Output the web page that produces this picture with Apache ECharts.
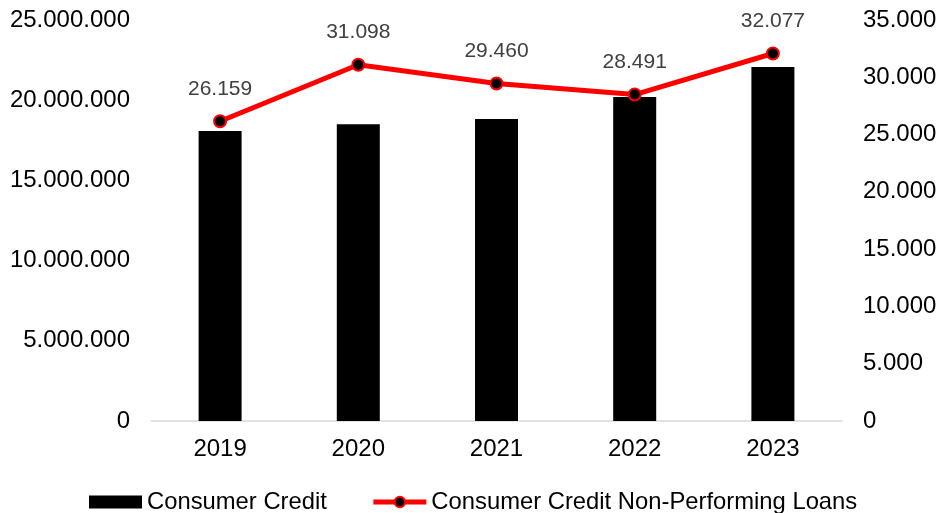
<!DOCTYPE html>
<html>
<head>
<meta charset="utf-8">
<script src="https://cdn.jsdelivr.net/npm/echarts@6/dist/echarts.min.js"></script>
<style>
  html, body { margin: 0; padding: 0; background: #fff; }
  #chart { width: 940px; height: 513px; }
</style>
</head>
<body>
<div id="chart"></div>
<script>
const years = ["2019", "2020", "2021", "2022", "2023"];
const consumerCredit = [18080000, 18500000, 18830000, 20200000, 22070000];
const nonPerforming = [26159, 31098, 29460, 28491, 32077];

const fmt = (v) => String(v).replace(/\B(?=(\d{3})+(?!\d))/g, ".");
const font = "Arial, 'Liberation Sans', sans-serif";

const chart = echarts.init(document.getElementById("chart"));
chart.setOption({
  animation: false,
  textStyle: { fontFamily: font },
  grid: { left: 151, right: 98, top: 20, bottom: 92 },
  legend: {
    bottom: -6,
    left: 84,
    itemWidth: 53,
    itemHeight: 13,
    itemGap: 44,
    textStyle: { fontSize: 23.8, color: "#000", fontFamily: font },
    data: [
      { name: "Consumer Credit", icon: "rect" },
      { name: "Consumer Credit Non-Performing Loans", lineStyle: { width: 5 } },
    ],
  },
  xAxis: {
    type: "category",
    data: years,
    axisLine: { lineStyle: { color: "#d9d9d9", width: 1.5 } },
    axisTick: { show: false },
    axisLabel: { fontSize: 24, color: "#000", margin: 16 },
  },
  yAxis: [
    {
      type: "value",
      min: 0,
      max: 25000000,
      interval: 5000000,
      splitLine: { show: false },
      axisLabel: { fontSize: 24, color: "#000", margin: 21, formatter: fmt },
    },
    {
      type: "value",
      min: 0,
      max: 35000,
      interval: 5000,
      splitLine: { show: false },
      axisLabel: { fontSize: 24, color: "#000", margin: 21, formatter: fmt },
    },
  ],
  series: [
    {
      name: "Consumer Credit",
      type: "bar",
      data: consumerCredit,
      barWidth: 43,
      itemStyle: { color: "#000" },
    },
    {
      name: "Consumer Credit Non-Performing Loans",
      type: "line",
      yAxisIndex: 1,
      data: nonPerforming,
      symbol: "circle",
      symbolSize: 12,
      lineStyle: { color: "#ff0000", width: 5 },
      itemStyle: { color: "#000", borderColor: "#ff0000", borderWidth: 2 },
      label: {
        show: true,
        position: "top",
        distance: 15,
        fontSize: 21,
        color: "#404040",
        formatter: (p) => fmt(p.value),
      },
    },
  ],
});
</script>
</body>
</html>
